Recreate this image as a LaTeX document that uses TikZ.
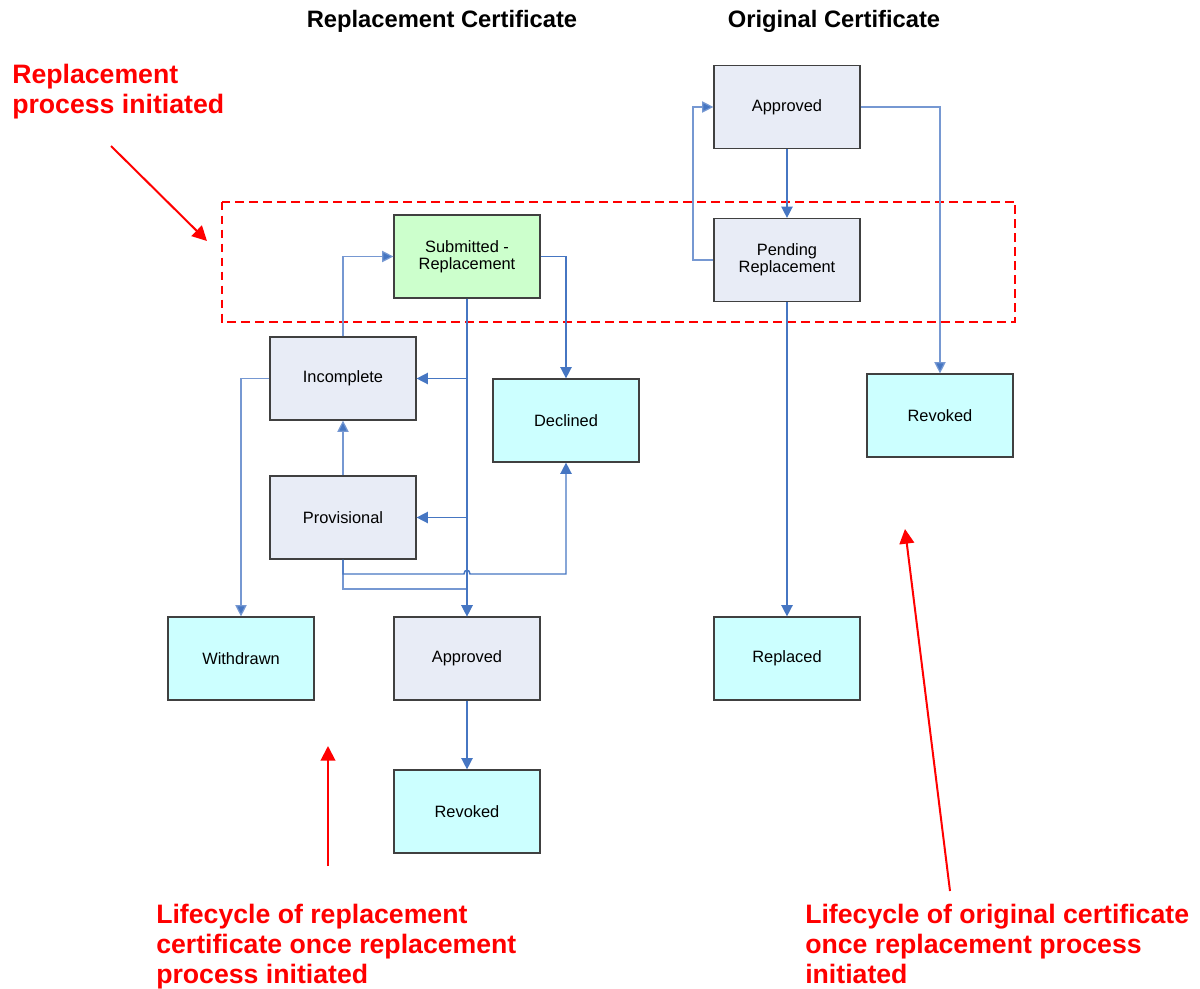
\documentclass[tikz,border=0pt]{standalone}
\usepackage{fontspec}
\setmainfont{Liberation Sans}
\usetikzlibrary{arrows.meta}
\definecolor{boxfill}{RGB}{232,236,246}
\definecolor{cyanfill}{RGB}{204,255,255}
\definecolor{greenfill}{RGB}{204,255,204}
\definecolor{bordergrey}{RGB}{64,64,64}
\definecolor{conndark}{RGB}{70,118,194}
\definecolor{connlight}{RGB}{118,152,210}
\definecolor{redlabel}{RGB}{255,0,0}
\begin{document}
\begin{tikzpicture}[x=0.75pt,y=-0.75pt,
  statebox/.style={draw=bordergrey,line width=0.9pt,minimum width=109.5pt,minimum height=62.25pt,
    inner sep=0pt,align=center,font=\fontsize{12.3}{12.8}\selectfont},
  greybox/.style={statebox,fill=boxfill},
  cyanbox/.style={statebox,fill=cyanfill},
  greenbox/.style={statebox,fill=greenfill},
  conn/.style={draw=conndark,line width=1.1pt,-{Triangle[length=8.5pt,width=8.5pt]}},
  connl/.style={draw=connlight,line width=0.9pt,-{Triangle[length=8.5pt,width=8.5pt,fill=conndark]}},
  redarrow/.style={draw=redlabel,line width=1.5pt,-{Triangle[length=11pt,width=11pt]}},
  redtext/.style={text=redlabel,font=\fontsize{20}{22.5}\selectfont\bfseries,align=left,inner sep=0pt,anchor=north west},
  title/.style={font=\fontsize{17.8}{20}\selectfont\bfseries,inner sep=0pt,anchor=base}
]
\useasboundingbox (0,0) rectangle (1200,989);

% titles
\node[title] (t1) at (442,27) {Replacement Certificate};
\node[title] (t2) at (834,27) {Original Certificate};

% dashed region
\draw[redlabel,line width=1.5pt,dash pattern=on 6.5pt off 4pt] (221.5,201.5) rectangle (1015,322);

% boxes
\node[greybox] (oApp) at (787,107) {Approved};
\node[greybox] (oPend) at (787,260) {Pending\\Replacement};
\node[greenbox] (sub) at (467,256.5) {Submitted -\\Replacement};
\node[greybox] (inc) at (343,378.5) {Incomplete};
\node[cyanbox] (dec) at (566,420.5) {Declined};
\node[cyanbox] (oRev) at (940,415.5) {Revoked};
\node[greybox] (prov) at (343,517.5) {Provisional};
\node[cyanbox] (wd) at (241,658.5) {Withdrawn};
\node[greybox] (rApp) at (467,658.5) {Approved};
\node[cyanbox] (repl) at (787,658.5) {Replaced};
\node[cyanbox] (rRev) at (467,811.5) {Revoked};

% helper coordinates
\coordinate (loopL) at (693,260);
\coordinate (hopL) at (464,574);
\coordinate (hopR) at (470,574);
\coordinate (j2) at (467,589);

% original certificate connectors
\draw[conn] (oApp.south) -- (oPend.north);
\draw[connl] (oPend.west) -- (loopL) |- (oApp.west);
\draw[connl] (oApp.east) -| (oRev.north);
\draw[conn] (oPend.south) -- (repl.north);

% replacement certificate connectors
\draw[connl] (inc.north) |- (sub.west);
\draw[conn] (sub.east) -| (dec.north);
\draw[connl] (prov.south) |- (j2) -- (rApp.north);
\draw[conn] (sub.south) -- (rApp.north);
\draw[conn] (sub.south) |- (inc.east);
\draw[conn] (sub.south) |- (prov.east);
\draw[connl] (inc.west) -| (wd.north);
\draw[connl] (prov.north) -- (inc.south);
\draw[conn] (prov.south) |- (hopL) .. controls +(0,-5) and +(0,-5) .. (hopR) -| (dec.south);
\draw[conn] (rApp.south) -- (rRev.north);

% red annotations
\node[redtext] (lab1) at (12,64) {Replacement\\process initiated};
\node[redtext] (lab2) at (156,904) {Lifecycle of replacement\\certificate once replacement\\process initiated};
\node[redtext] (lab3) at (805,904) {Lifecycle of original certificate\\once replacement process\\initiated};

\coordinate (a1s) at (111,146);
\coordinate (a1e) at (207,241);
\coordinate (a2s) at (328,866);
\coordinate (a2e) at (328,746);
\coordinate (a3s) at (950,891);
\coordinate (a3e) at (905,529);
\draw[redarrow] (a1s) -- (a1e);
\draw[redarrow] (a2s) -- (a2e);
\draw[redarrow] (a3s) -- (a3e);
\end{tikzpicture}
\end{document}
